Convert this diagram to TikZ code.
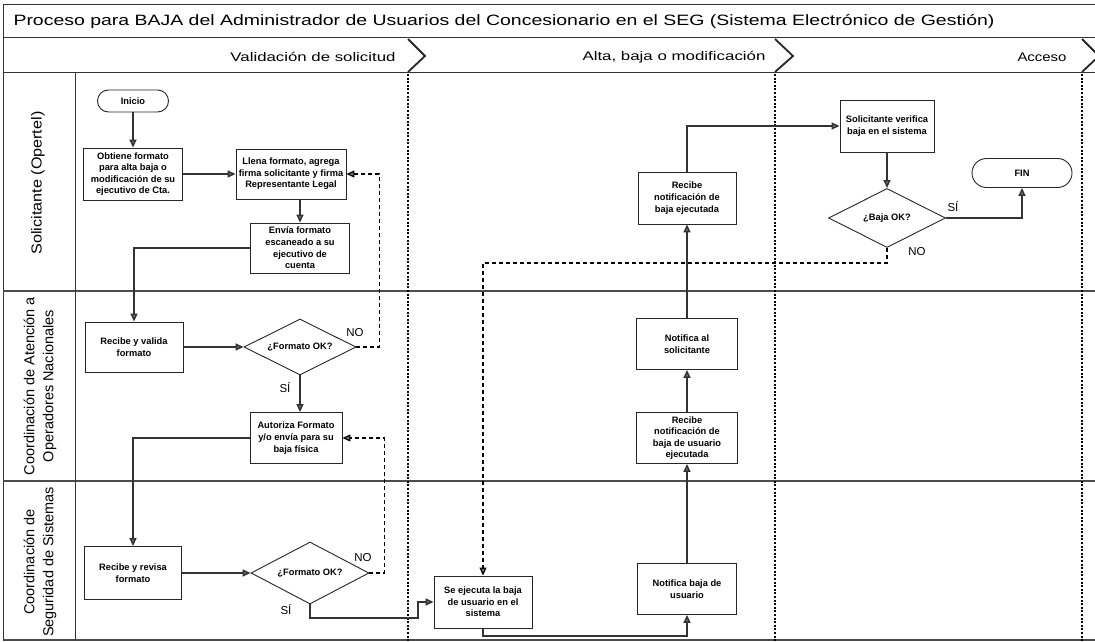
\documentclass[tikz,border=0pt]{standalone}
\usepackage{fontspec}
\setmainfont{Liberation Sans}
\usetikzlibrary{arrows.meta,shapes.geometric,calc}

\begin{document}
\begin{tikzpicture}[x=1pt,y=-1pt,
  frameline/.style={draw=black!80, line width=1pt},
  lanesep/.style={draw=black!70, line width=1.2pt},
  phasesep/.style={draw=black, line width=2.4pt, dash pattern=on 2pt off 1.6pt},
  chev/.style={draw=black!85, line width=1.8pt},
  proc/.style={draw=black!85, line width=0.9pt, fill=white, align=center, inner sep=1pt,
    font=\fontsize{9.3}{11.6}\selectfont\bfseries},
  dec/.style={diamond, aspect=2, draw=black!85, line width=0.9pt, fill=white, inner sep=0pt,
    font=\fontsize{9.3}{11.6}\selectfont\bfseries},
  term/.style={draw=black!85, line width=0.9pt, fill=white, align=center, inner sep=0pt,
    font=\fontsize{9.3}{11.6}\selectfont\bfseries},
  flow/.style={draw=black!80, line width=1.5pt,
    -{Triangle[length=8pt,width=7pt,fill=black!55]}},
  back/.style={draw=black, line width=1.2pt, dash pattern=on 4pt off 3pt,
    -{Triangle[length=8pt,width=7pt,fill=black!55]}},
  lane/.style={rotate=90, align=center, font=\fontsize{14.5}{19}\selectfont},
  phase/.style={font=\fontsize{12.5}{15}\selectfont},
  lbl/.style={font=\fontsize{11.5}{13}\selectfont}
]
\useasboundingbox (0,0) rectangle (1095,642);

% title band, phase band and swimlane frame
\draw[frameline] (1095,5) -- (3,5) -- (3,641);
\draw[frameline] (3,38) -- (1095,38);
\draw[frameline] (3,73) -- (1095,73);
\draw[lanesep] (3,291) -- (1095,291);
\draw[lanesep] (3,481) -- (1095,481);
\draw[lanesep] (3,640) -- (1095,640);
\draw[frameline] (75,73) -- (75,641);

\node[anchor=west, font=\fontsize{15}{18}\selectfont] (title) at (10,22)
  {\resizebox{981pt}{\height}{Proceso para BAJA del Administrador de Usuarios del Concesionario en el SEG (Sistema Electrónico de Gestión)}};

% phase chevrons and separators
\draw[chev] (408,39) -- (425,56) -- (408,72);
\draw[chev] (775,39) -- (793,56) -- (775,72);
\draw[chev] (1082,39) -- (1099,56) -- (1082,72);
\draw[phasesep] (408,74) -- (408,642);
\draw[phasesep] (775,74) -- (775,642);
\draw[phasesep] (1082,74) -- (1082,642);

\node[phase] (ph1) at (313,57) {\resizebox{165pt}{\height}{Validación de solicitud}};
\node[phase] (ph2) at (674,57) {\resizebox{183pt}{\height}{Alta, baja o modificación}};
\node[phase] (ph3) at (1042,57) {\resizebox{49pt}{\height}{Acceso}};

% lane titles
\node[lane] (l1) at (38,183) {\resizebox{143pt}{\height}{Solicitante (Opertel)}};
\node[lane] (l2) at (40,386) {Coordinación de Atención a\\Operadores Nacionales};
\node[lane] (l3) at (40,562) {Coordinación de\\Seguridad de Sistemas};

% Solicitante lane
\node[term, rounded corners=11pt, minimum width=71, minimum height=22] (ini) at (133,101) {Inicio};
\node[proc, minimum width=99, minimum height=52] (obt) at (133,174)
  {Obtiene formato\\para alta baja o\\modificación de su\\ejecutivo de Cta.};
\node[proc, minimum width=110, minimum height=50] (lle) at (291,174)
  {Llena formato, agrega\\firma solicitante y firma\\Representante Legal};
\node[proc, minimum width=99, minimum height=50] (env) at (300,248)
  {Envía formato\\escaneado a su\\ejecutivo de\\cuenta};
\node[proc, minimum width=98, minimum height=52] (rne) at (687,198)
  {Recibe\\notificación de\\baja ejecutada};
\node[proc, minimum width=94, minimum height=52] (sv) at (887,126)
  {Solicitante verifica\\baja en el sistema};
\node[dec, minimum width=117, minimum height=59] (d3) at (887,218) {¿Baja OK?};
\node[term, rounded corners=14.5pt, minimum width=100, minimum height=29] (fin) at (1022,173) {FIN};

% Atención a Operadores lane
\node[proc, minimum width=98, minimum height=50] (rv) at (134,347)
  {Recibe y valida\\formato};
\node[dec, minimum width=112, minimum height=56] (d1) at (300,347) {¿Formato OK?};
\node[proc, minimum width=92, minimum height=51] (aut) at (296,438)
  {Autoriza Formato\\y/o envía para su\\baja física};
\node[proc, minimum width=101, minimum height=51] (ns) at (687,344)
  {Notifica al\\solicitante};
\node[proc, minimum width=101, minimum height=51] (rnu) at (687,438)
  {Recibe\\notificación de\\baja de usuario\\ejecutada};

% Seguridad de Sistemas lane
\node[proc, minimum width=97, minimum height=53] (rr) at (133,573)
  {Recibe y revisa\\formato};
\node[dec, minimum width=118, minimum height=62] (d2) at (310,573) {¿Formato OK?};
\node[proc, minimum width=98, minimum height=52] (se) at (483,602)
  {Se ejecuta la baja\\de usuario en el\\sistema};
\node[proc, minimum width=99, minimum height=51] (nb) at (687,589)
  {Notifica baja de\\usuario};

% bend points
\coordinate (c1) at (418,618);
\coordinate (c2) at (483,636);

% main flow
\draw[flow] (ini.south) -- (obt.north);
\draw[flow] (obt.east) -- (lle.west);
\draw[flow] (lle.south -| env.north) -- (env.north);
\draw[flow] (env.west) -| (rv.north);
\draw[flow] (rv.east) -- (rv.east -| d1.west);
\draw[flow] (d1.south) -- (d1.south |- aut.north);
\draw[flow] (aut.west) -| (rr.north);
\draw[flow] (rr.east) -- (rr.east -| d2.west);
\draw[flow] (d2.south) |- (c1) |- (se.west);
\draw[flow] (se.south) -- (c2) -| (nb.south);
\draw[flow] (nb.north) -- (rnu.south);
\draw[flow] (rnu.north) -- (ns.south);
\draw[flow] (ns.north) -- (rne.south);
\draw[flow] (rne.north) |- (sv.west);
\draw[flow] (sv.south) -- (d3.north);
\draw[flow] (d3.east) -| (fin.south);

% rejection loops
\draw[back] (d1.east) -- ++(23,0) |- (lle.east);
\draw[back] (d2.east) -- ++(15,0) |- (aut.east);
\draw[back] (d3.south) -- ++(0,15) -| (se.north);

% decision labels
\node[lbl] (no1) at (355,333) {NO};
\node[lbl] (si1) at (285,388) {SÍ};
\node[lbl] (no2) at (363,558) {NO};
\node[lbl] (si2) at (286,610) {SÍ};
\node[lbl] (si3) at (953,207) {SÍ};
\node[lbl] (no3) at (917,252) {NO};
\end{tikzpicture}
\end{document}
